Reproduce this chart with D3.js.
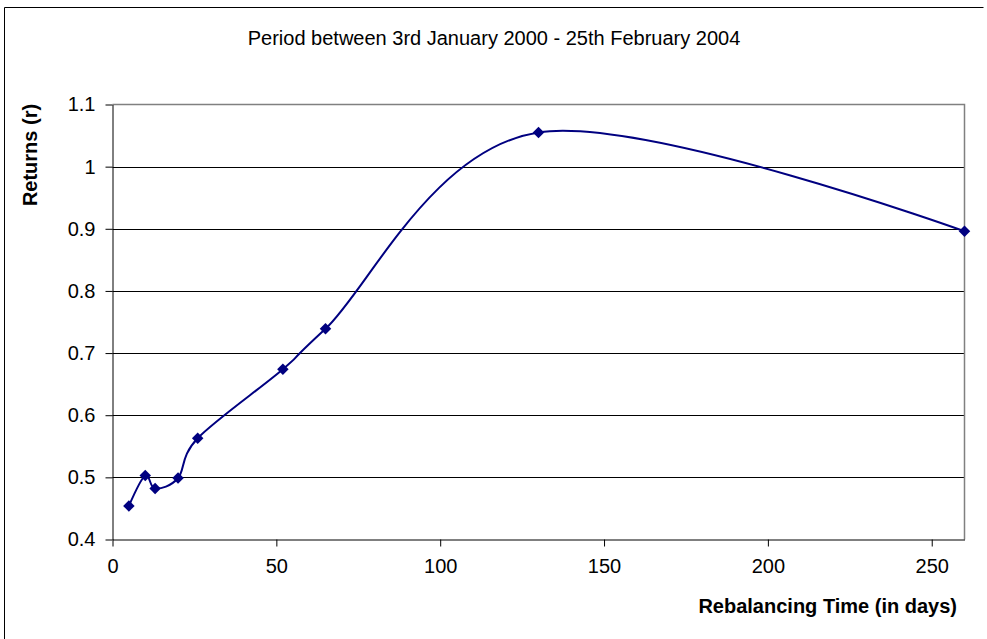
<!DOCTYPE html>
<html>
<head>
<meta charset="utf-8">
<script src="https://cdn.jsdelivr.net/npm/d3@7"></script>
<style>
  body { margin: 0; background: #fff; }
  svg { display: block; font-family: "Liberation Sans", Arial, sans-serif; }
</style>
</head>
<body>
<svg></svg>
<script>
// chart data
const days = [5, 10, 13, 20, 26, 52, 65, 130, 260];
const returns = [0.454, 0.503, 0.482, 0.499, 0.563, 0.674, 0.739, 1.055, 0.896];
const xTicks = [0, 50, 100, 150, 200, 250];
const yTicks = [0.4, 0.5, 0.6, 0.7, 0.8, 0.9, 1, 1.1];
const title = 'Period between 3rd January 2000 - 25th February 2004';
const xTitle = 'Rebalancing Time (in days)';
const yTitle = 'Returns (r)';

const width = 987;
const height = 639;
const plot = { left: 112.5, right: 964.5, top: 104.5, bottom: 539.5 };
const navy = '#000080';

let svg = d3.select('svg')
  .attr('width', width)
  .attr('height', height);

let xScale = d3.scaleLinear()
  .domain([0, 260])
  .range([plot.left, plot.right]);

let yScale = d3.scaleLinear()
  .domain([0.4, 1.1])
  .range([plot.bottom, plot.top]);

function drawFrame() {
  // outer chart border (only left and top show in the picture)
  svg.append('path')
    .attr('d', 'M4.5,700V7.5H983.5')
    .attr('fill', 'none')
    .attr('stroke', '#000')
    .attr('stroke-width', 1);

  svg.append('text')
    .attr('x', 494)
    .attr('y', 45)
    .attr('text-anchor', 'middle')
    .style('font-size', '20px')
    .text(title);
}

function drawGrid() {
  svg.append('g')
    .selectAll('line')
    .data(yTicks.slice(1, -1))
    .enter()
    .append('line')
    .attr('x1', plot.left)
    .attr('x2', plot.right)
    .attr('y1', d => Math.round(yScale(d)) + 0.5)
    .attr('y2', d => Math.round(yScale(d)) + 0.5)
    .attr('stroke', '#000')
    .attr('stroke-width', 1);

  // plot area border, top and right in grey
  svg.append('path')
    .attr('d', `M${plot.left},${plot.top}H${plot.right}V${plot.bottom}`)
    .attr('fill', 'none')
    .attr('stroke', '#808080')
    .attr('stroke-width', 1.5);
}

function drawAxes() {
  let xAxis = d3.axisBottom(xScale)
    .tickValues(xTicks)
    .tickSize(7)
    .tickSizeOuter(0)
    .tickPadding(12);

  let yAxis = d3.axisLeft(yScale)
    .tickValues(yTicks)
    .tickFormat(d3.format('~g'))
    .tickSize(7)
    .tickSizeOuter(0)
    .tickPadding(10);

  let gx = svg.append('g')
    .attr('transform', 'translate(0,' + plot.bottom + ')')
    .call(xAxis);

  let gy = svg.append('g')
    .attr('transform', 'translate(' + plot.left + ',0)')
    .call(yAxis);

  [gx, gy].forEach(g => {
    g.selectAll('path, line').attr('stroke', '#000');
    g.selectAll('text')
      .attr('fill', '#000')
      .style('font-size', '20px')
      .style('font-family', '"Liberation Sans", Arial, sans-serif');
  });

  svg.append('text')
    .attr('x', 957)
    .attr('y', 613)
    .attr('text-anchor', 'end')
    .style('font-size', '20px')
    .style('font-weight', 'bold')
    .text(xTitle);

  svg.append('text')
    .attr('transform', 'translate(37,155) rotate(-90)')
    .attr('text-anchor', 'middle')
    .style('font-size', '20px')
    .style('font-weight', 'bold')
    .text(yTitle);
}

function drawSeries() {
  let points = days.map((d, i) => [d, returns[i]]);

  let line = d3.line()
    .x(d => xScale(d[0]))
    .y(d => yScale(d[1]))
    .curve(d3.curveCardinal.tension(0));

  svg.append('path')
    .datum(points)
    .attr('d', line)
    .attr('fill', 'none')
    .attr('stroke', navy)
    .attr('stroke-width', 2);

  svg.append('g')
    .selectAll('path')
    .data(points)
    .enter()
    .append('path')
    .attr('d', d3.symbol().type(d3.symbolSquare).size(66))
    .attr('transform', d => `translate(${xScale(d[0])},${yScale(d[1])}) rotate(45)`)
    .attr('fill', navy);
}

drawFrame();
drawGrid();
drawAxes();
drawSeries();
</script>
</body>
</html>
